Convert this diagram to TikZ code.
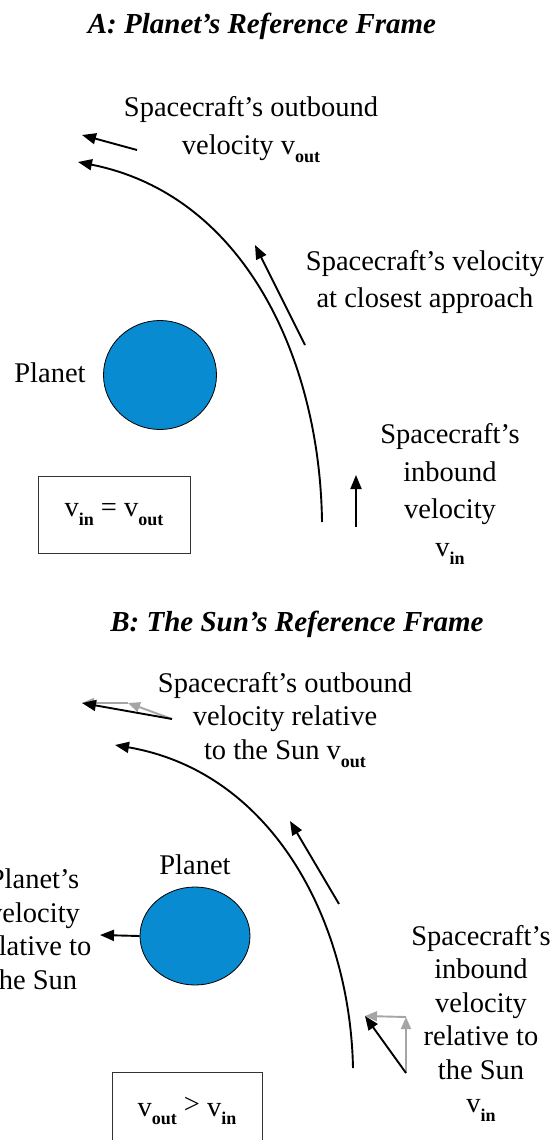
\documentclass[tikz,border=0pt]{standalone}
\usepackage{fontspec}
\setmainfont{Liberation Serif}
\usetikzlibrary{arrows.meta,shapes.geometric}
\definecolor{planetblue}{RGB}{8,139,208}
\definecolor{vecgray}{RGB}{165,165,165}
\newcommand{\vsub}[1]{\raisebox{-0.3em}{\fontsize{18}{18}\selectfont\bfseries #1}}
\begin{document}
\begin{tikzpicture}[x=1pt,y=-1pt,
  txt/.style={font=\fontsize{28.5}{37.5}\selectfont, align=center, inner sep=0pt},
  txtb/.style={font=\fontsize{28.5}{33.5}\selectfont, align=center, inner sep=0pt},
  ttl/.style={font=\fontsize{29}{32}\selectfont\bfseries\itshape, inner sep=0pt},
  vec/.style={line width=1.9pt, -{Triangle[length=14pt,width=11pt]}},
  gvec/.style={line width=1.9pt, draw=vecgray, -{Triangle[length=12pt,width=10pt]}},
  traj/.style={line width=1.9pt, -{Triangle[length=14pt,width=11pt]}},
  planet/.style={ellipse, draw=black, line width=0.8pt, fill=planetblue, inner sep=0pt},
  eqbox/.style={draw=black!80, line width=0.9pt, inner sep=0pt, font=\fontsize{28.5}{32}\selectfont}]
\fill[white] (0,0) rectangle (553,1140);
\useasboundingbox (0,0) rectangle (553,1140);

% ---------- A ----------
\node[ttl] (titleA) at (262,26) {A: Planet’s Reference Frame};
\node[txt] (outA) at (251,130) {Spacecraft’s outbound\\velocity v\vsub{out}};
\node[txt] (closeA) at (425,282) {Spacecraft’s velocity\\at closest approach};
\node[txt] (planetAlbl) at (50,373) {Planet};
\node[txt] (inA) at (450,494) {Spacecraft’s\\inbound\\velocity\\v\vsub{in}};
\node[planet, minimum width=113pt, minimum height=109pt] (planetA) at (160,375) {};
\node[eqbox, minimum width=152pt, minimum height=77pt] (boxA) at (114,514.5) {v\vsub{in} = v\vsub{out}};

\coordinate (aS) at (322,522);
\coordinate (aE) at (78,162);
\draw[traj] (aS) .. controls (320,360) and (245,195) .. (aE);

\coordinate (oA1) at (137,150);
\coordinate (oA2) at (82,135);
\draw[vec] (oA1) -- (oA2);
\coordinate (cA1) at (305,345);
\coordinate (cA2) at (255,245);
\draw[vec] (cA1) -- (cA2);
\coordinate (iA1) at (356,527);
\coordinate (iA2) at (356,475);
\draw[vec] (iA1) -- (iA2);

% ---------- B ----------
\node[ttl] (titleB) at (297,624) {B: The Sun’s Reference Frame};
\node[txtb] (outB) at (285,720) {Spacecraft’s outbound\\velocity relative\\to the Sun v\vsub{out}};
\node[txt] (planetBlbl) at (195,865) {Planet};
\node[txtb] (plvel) at (34,929) {Planet’s\\velocity\\relative to\\the Sun};
\node[txtb] (inB) at (481,1023) {Spacecraft’s\\inbound\\velocity\\relative to\\the Sun\\v\vsub{in}};
\node[planet, minimum width=110pt, minimum height=98pt] (planetB) at (195,936) {};
\node[eqbox, minimum width=150pt, minimum height=78pt] (boxB) at (187,1111) {v\vsub{out} \raisebox{0.1em}{>} v\vsub{in}};

\coordinate (bS) at (353,1068);
\coordinate (bE) at (115,745);
\draw[traj] (bS) .. controls (350,920) and (272,772) .. (bE);

\coordinate (pBv) at (100,935);
\draw[vec] (planetB.west) -- (pBv);

\coordinate (cB1) at (339,904);
\coordinate (cB2) at (290,821);
\draw[vec] (cB1) -- (cB2);

% outbound vector addition
\coordinate (oB1) at (172,719);
\coordinate (oBg) at (128,703);
\coordinate (oB2) at (82,703);
\draw[gvec] (oB1) -- (oBg);
\draw[gvec] (oBg) -- (oB2);
\draw[vec] (oB1) -- (oB2);

% inbound vector addition
\coordinate (iB1) at (406,1073);
\coordinate (iBg) at (406,1017);
\coordinate (iB2) at (365,1016);
\draw[gvec] (iB1) -- (iBg);
\draw[gvec] (iBg) -- (iB2);
\draw[vec] (iB1) -- (iB2);
\end{tikzpicture}
\end{document}
